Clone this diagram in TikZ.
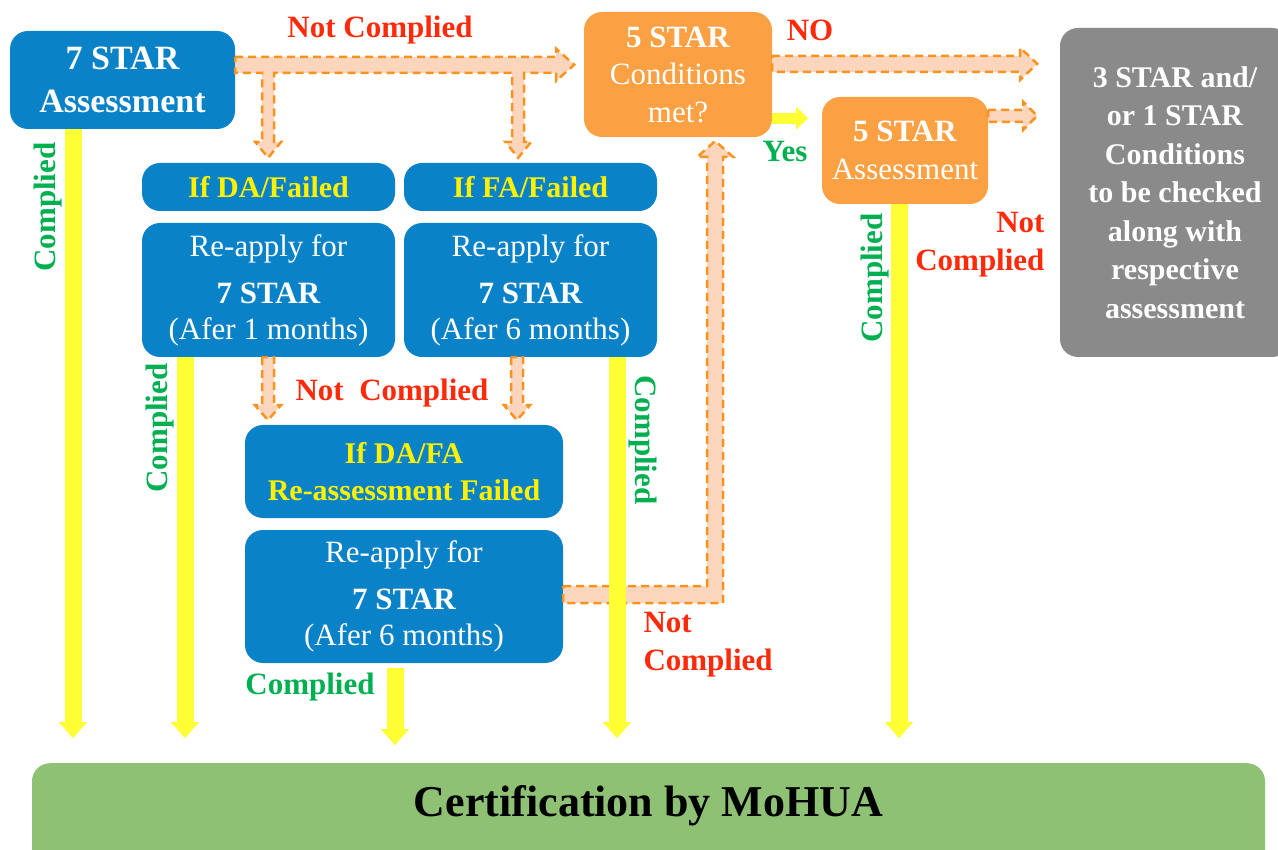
\documentclass[tikz,border=0pt]{standalone}
\usepackage{fontspec}
\setmainfont{Liberation Serif}
\usepackage{tikz}
\usetikzlibrary{calc,arrows.meta}
\definecolor{boxblue}{HTML}{0A82C8}
\definecolor{boxorange}{HTML}{FBA043}
\definecolor{boxgrey}{HTML}{8A8A8A}
\definecolor{certgreen}{HTML}{8EC174}
\definecolor{arrowyellow}{HTML}{FFFF33}
\definecolor{txtyellow}{HTML}{FFF200}
\definecolor{peach}{HTML}{FBD5BC}
\definecolor{dashorange}{HTML}{F7931E}
\definecolor{nored}{HTML}{FF2A0A}
\definecolor{okgreen}{HTML}{00B050}
\tikzset{
  box/.style={rounded corners=18pt, inner sep=0pt, align=center, text=white},
  bluebox/.style={box, fill=boxblue},
  orangebox/.style={box, fill=boxorange},
  greybox/.style={box, fill=boxgrey, font=\bfseries\fontsize{30}{38.5}\selectfont},
  ifbox/.style={bluebox, text=txtyellow, font=\bfseries\fontsize{30}{37}\selectfont},
  reapply/.style={bluebox, minimum width=253pt, minimum height=134pt, font=\fontsize{31}{36}\selectfont},
  blk/.style={fill=peach, draw=dashorange, line width=2.5pt, dash pattern=on 8pt off 5pt},
  yarr/.style={draw=arrowyellow, line width=17pt, -{Triangle[width=27pt,length=16pt]}},
  labr/.style={text=nored, font=\bfseries\fontsize{31}{38}\selectfont},
  labg/.style={text=okgreen, font=\bfseries\fontsize{31}{36}\selectfont}
}
\begin{document}
\begin{tikzpicture}[x=1pt, y=-1pt]
  \useasboundingbox (0,0) rectangle (1278,850);
  % boxes
  \node[bluebox, minimum width=225pt, minimum height=98pt, font=\bfseries\fontsize{34}{43}\selectfont] (s7) at (122.5,80) {7 STAR\\Assessment};
  \node[orangebox, minimum width=188pt, minimum height=125pt, font=\fontsize{31}{37.5}\selectfont] (q5) at (678,74.5) {\textbf{5 STAR}\\Conditions\\met?};
  \node[orangebox, minimum width=166pt, minimum height=107pt, font=\fontsize{31}{38}\selectfont] (a5) at (905,150.5) {\textbf{5 STAR}\\Assessment};
  \node[greybox, minimum width=230pt, minimum height=329pt] (g3) at (1175,192.5) {3 STAR and/\\or 1 STAR\\Conditions\\to be checked\\along with\\respective\\assessment};
  \node[ifbox, minimum width=253pt, minimum height=48pt] (fda) at (268.5,187) {If DA/Failed};
  \node[ifbox, minimum width=253pt, minimum height=48pt] (ffa) at (530.5,187) {If FA/Failed};
  \node[reapply] (ra1) at (268.5,290) {Re-apply for\\[11pt]\textbf{7 STAR}\\(Afer 1 months)};
  \node[reapply] (ra2) at (530.5,290) {Re-apply for\\[11pt]\textbf{7 STAR}\\(Afer 6 months)};
  \node[ifbox, minimum width=318pt, minimum height=93pt] (fre) at (404,471.5) {If DA/FA\\Re-assessment Failed};
  \node[reapply, minimum width=318pt, minimum height=133pt] (ra3) at (404,596.5) {Re-apply for\\[11pt]\textbf{7 STAR}\\(Afer 6 months)};
  \node[fill=certgreen, rounded corners=18pt, minimum width=1233pt, anchor=north, inner xsep=0pt, inner ysep=15pt,
        text height=38pt, text depth=52pt, font=\bfseries\fontsize{44}{50}\selectfont] (cert) at (648.5,763) {Certification by MoHUA};

  % not complied paths
  \draw[blk] ($(s7.north east)+(0,26)$) -- ++(321,0) -- ++(0,-8) -- ++(18,16) -- ++(-18,16) -- ++(0,-8)
    -- ++(-32,0) -- ++(0,69) -- ++(7,0) -- ++(-13,16) -- ++(-13,-16) -- ++(7,0) -- ++(0,-69)
    -- ++(-238,0) -- ++(0,69) -- ++(7,0) -- ++(-13,16) -- ++(-13,-16) -- ++(7,0) -- ++(0,-69)
    -- ++(-27,0) -- cycle;
  \draw[blk] ($(q5.north east)+(0,44)$) -- ++(248,0) -- ++(0,-8) -- ++(17,16) -- ++(-17,16) -- ++(0,-8) -- ++(-248,0) -- cycle;
  \draw[blk] ($(a5.north east)+(0,13)$) -- ++(35,0) -- ++(0,-8) -- ++(14,14) -- ++(-14,14) -- ++(0,-8) -- ++(-35,0) -- cycle;
  \draw[blk] ($(ra1.south)+(-6.5,0)$) -- ++(0,48) -- ++(-7,0) -- ++(13,15) -- ++(13,-15) -- ++(-7,0) -- ++(0,-48) -- cycle;
  \draw[blk] ($(ra2.south)+(-19.5,0)$) -- ++(0,48) -- ++(-7,0) -- ++(13,15) -- ++(13,-15) -- ++(-7,0) -- ++(0,-48) -- cycle;
  \draw[blk] ($(ra3.east)+(0,-10.5)$) -- ++(144,0) -- ++(0,-429) -- ++(-10,0) -- ++(18,-16) -- ++(18,16) -- ++(-10,0)
    -- ++(0,446) -- ++(-160,0) -- cycle;

  % complied paths
  \draw[yarr] ([xshift=-49.5]s7.south) -- ++(0,609);
  \draw[yarr] ([xshift=-83.5]ra1.south) -- ++(0,381);
  \draw[yarr] ($(ra3.south)+(-9,5)$) -- ++(0,77);
  \draw[yarr] ([xshift=86.5]ra2.south) -- ++(0,381);
  \draw[yarr] ([xshift=-6]a5.south) -- ++(0,534);
  \draw[yarr, line width=11pt, -{Triangle[width=22pt,length=12pt]}] ($(q5.south east)+(0,-19)$) -- ++(36,0);

  % labels
  \node[labr] (nc1) at (380,30) {Not Complied};
  \node[labr] (no) at (810,30) {NO};
  \node[labg] (yes) at (785,152) {Yes};
  \node[labr, align=right, anchor=east] (nc2) at (1048,245) {Not\\Complied};
  \node[labr] (nc3) at (392,393) {Not\ \ Complied};
  \node[labr, align=left, anchor=west] (nc4) at (640,645) {Not\\Complied};
  \node[labg, rotate=90] (c1) at (48,207) {Complied};
  \node[labg, rotate=90] (c2) at (160,428) {Complied};
  \node[labg, rotate=90] (c3) at (875,278) {Complied};
  \node[labg, rotate=-90] (c4) at (643,440) {Complied};
  \node[labg] (c5) at (310,687) {Complied};
\end{tikzpicture}
\end{document}
